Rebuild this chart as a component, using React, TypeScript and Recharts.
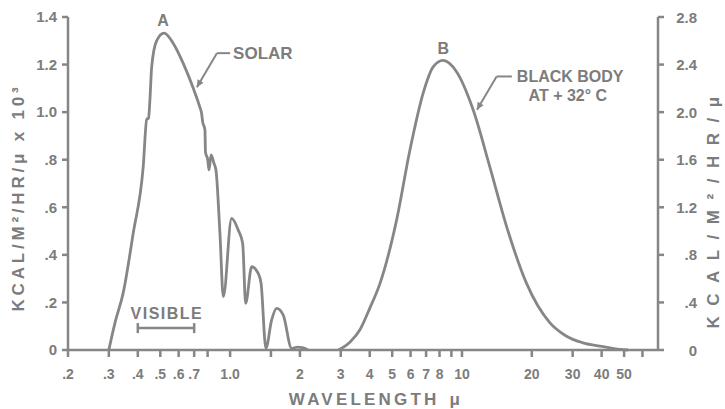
import React from 'react';
import {
  LineChart, Line, XAxis, YAxis, ReferenceLine, ReferenceDot
} from 'recharts';

// wavelength (micron) and intensity
const solarWave = [0.3, 0.32, 0.346, 0.382, 0.422, 0.437, 0.445, 0.451, 0.459, 0.482, 0.519, 0.569, 0.628, 0.694, 0.741, 0.753, 0.762, 0.779, 0.783, 0.801, 0.811, 0.828, 0.851, 0.869, 0.904, 0.935, 1.015, 1.084, 1.133, 1.167, 1.239, 1.322, 1.36, 1.427, 1.51, 1.587, 1.695, 1.842, 1.95, 2.05, 2.17];
const solarValue = [0, 0.12, 0.24, 0.49, 0.77, 0.97, 0.975, 1.05, 1.19, 1.3, 1.332, 1.289, 1.205, 1.1, 1.02, 0.996, 0.958, 0.925, 0.832, 0.8, 0.757, 0.82, 0.786, 0.757, 0.49, 0.224, 0.553, 0.504, 0.448, 0.196, 0.35, 0.322, 0.28, 0.007, 0.126, 0.175, 0.147, 0.007, 0.012, 0.01, 0];

const bodyWave = [2.93, 3.3, 3.63, 4.0, 4.43, 5.22, 5.96, 6.8, 7.51, 8.29, 9.47, 11.17, 13.18, 15.56, 18.98, 23.9, 28, 33.3, 40, 48, 52];
const bodyValue = [0, 0.07, 0.17, 0.35, 0.56, 1.09, 1.68, 2.16, 2.38, 2.435, 2.34, 2.02, 1.54, 1.04, 0.56, 0.23, 0.12, 0.06, 0.03, 0.005, 0];

const xTicks = [0.2, 0.3, 0.4, 0.5, 0.6, 0.7, 0.8, 1.0, 1.5, 2, 3, 4, 5, 6, 7, 8, 9, 10, 20, 30, 40, 50, 60];
const xTickText = ['.2', '.3', '.4', '.5', '.6', '.7', '', '1.0', '', '2', '3', '4', '5', '6', '7', '8', '', '10', '20', '30', '40', '50', ''];
const leftTicks = [0, 0.2, 0.4, 0.6, 0.8, 1.0, 1.2, 1.4];
const leftTickText = ['0', '.2', '.4', '.6', '.8', '1.0', '1.2', '1.4'];
const rightTicks = [0, 0.4, 0.8, 1.2, 1.6, 2.0, 2.4, 2.8];
const rightTickText = ['0', '.4', '.8', '1.2', '1.6', '2.0', '2.4', '2.8'];

const solarData = solarWave.map((x, i) => ({ x, v: solarValue[i] }));
const bodyData = bodyWave.map((x, i) => ({ x, v: bodyValue[i] }));

const INK = '#868686';
const TEXT = '#7c7c7c';
const FONT = '"Liberation Sans", Arial, sans-serif';

const Arrow = (props: any) => {
  const { x1, y1, x2, y2 } = props;
  const a = Math.atan2(y2 - y1, x2 - x1);
  const L = 8, w = 0.45;
  const p1 = `${x2 - L * Math.cos(a - w)},${y2 - L * Math.sin(a - w)}`;
  const p2 = `${x2 - L * Math.cos(a + w)},${y2 - L * Math.sin(a + w)}`;
  return (
    <g>
      <line x1={x1} y1={y1} x2={x2} y2={y2} stroke={INK} strokeWidth={2} />
      <polygon points={`${x2},${y2} ${p1} ${p2}`} fill={INK} />
    </g>
  );
};

const Plain = (props: any) => (
  <line x1={props.x1} y1={props.y1} x2={props.x2} y2={props.y2} stroke={INK} strokeWidth={2} />
);

const Bracket = (props: any) => {
  const { x1, y1, x2, y2 } = props;
  return (
    <g stroke={INK} strokeWidth={2.5}>
      <line x1={x1} y1={y1} x2={x2} y2={y2} />
      <line x1={x1} y1={y1 - 5} x2={x1} y2={y1 + 5} />
      <line x1={x2} y1={y2 - 5} x2={x2} y2={y2 + 5} />
    </g>
  );
};

const note = (lines: string[], size: number, anchor: 'start' | 'middle', dx = 0, second = 0, spacing = 0) => (p: any) => (
  <text x={p.cx + dx} y={p.cy} fill={TEXT} fontFamily={FONT} fontWeight="bold" fontSize={size}
    textAnchor={anchor} dominantBaseline="central" letterSpacing={spacing}>
    {lines.map((t, i) => (
      <tspan key={i} x={i === 0 ? p.cx + dx : p.cx + dx + second} dy={i === 0 ? 0 : 19}
        textAnchor={i === 0 ? anchor : 'middle'}>{t}</tspan>
    ))}
  </text>
);

const LeftTitle = (p: any) => {
  const vb = p.viewBox;
  const cx = vb.x + 18, cy = vb.y + vb.height / 2 + 14;
  return (
    <text x={cx} y={cy} transform={`rotate(-90, ${cx}, ${cy})`} textAnchor="middle" dominantBaseline="central"
      fill={TEXT} fontFamily={FONT} fontWeight="bold" fontSize={17} letterSpacing={3.8}>
      KCAL/M²/HR/μ x 10³
    </text>
  );
};

const RightTitle = (p: any) => {
  const vb = p.viewBox;
  const cx = vb.x + 55, cy = vb.y + vb.height / 2 + 24;
  return (
    <text x={cx} y={cy} transform={`rotate(-90, ${cx}, ${cy})`} textAnchor="middle" dominantBaseline="central"
      fill={TEXT} fontFamily={FONT} fontWeight="bold" fontSize={17} letterSpacing={10.5}>
      KCAL/M²/HR/μ
    </text>
  );
};

const BottomTitle = (p: any) => {
  const vb = p.viewBox;
  return (
    <text x={vb.x + vb.width / 2 + 13} y={vb.y + 49} textAnchor="middle" dominantBaseline="central"
      fill={TEXT} fontFamily={FONT} fontWeight="bold" fontSize={17} letterSpacing={3.2}>
      WAVELENGTH<tspan dx={10}>μ</tspan>
    </text>
  );
};

const RightTick = (p: any) => (
  <text x={p.x + 31} y={p.y} textAnchor="end" dominantBaseline="central" fill={TEXT}
    fontFamily={FONT} fontWeight="bold" fontSize={15}>
    {rightTickText[p.index]}
  </text>
);

export default function App() {
  return (
    <div style={{ position: 'absolute', left: 0, top: 0, background: '#fff' }}>
      <LineChart width={725} height={409} margin={{ top: 17, right: 0, bottom: 0, left: 0 }}>
        <XAxis
          dataKey="x" type="number" scale="log" domain={[0.2, 70]} allowDataOverflow
          ticks={xTicks} tickFormatter={(v: number, i: number) => xTickText[i]}
          interval={0} height={59} tickSize={7} tickMargin={12}
          stroke={INK} strokeWidth={2.5}
          tick={{ fill: TEXT, fontFamily: FONT, fontWeight: 'bold', fontSize: 14 }}
          label={{ content: BottomTitle }}
        />
        <YAxis
          yAxisId="left" domain={[0, 1.4]} ticks={leftTicks} interval={0} width={68}
          tickFormatter={(v: number, i: number) => leftTickText[i]}
          tickSize={6} tickMargin={5} stroke={INK} strokeWidth={2.5}
          tick={{ fill: TEXT, fontFamily: FONT, fontWeight: 'bold', fontSize: 15 }}
          label={{ content: LeftTitle }}
        />
        <YAxis
          yAxisId="right" orientation="right" domain={[0, 2.8]} ticks={rightTicks} interval={0} width={67}
          tickSize={6} tickMargin={2} stroke={INK} strokeWidth={2.5}
          tick={<RightTick />}
          label={{ content: RightTitle }}
        />
        <Line yAxisId="left" data={solarData} dataKey="v" type="monotone" stroke={INK} strokeWidth={2.8}
          dot={false} isAnimationActive={false} />
        <Line yAxisId="right" data={bodyData} dataKey="v" type="monotone" stroke={INK} strokeWidth={2.8}
          dot={false} isAnimationActive={false} />

        <ReferenceLine yAxisId="left" ifOverflow="visible" segment={[{ x: 1.0, y: 1.248 }, { x: 0.877, y: 1.248 }]} shape={Plain} />
        <ReferenceLine yAxisId="left" ifOverflow="visible" segment={[{ x: 0.877, y: 1.248 }, { x: 0.719, y: 1.105 }]} shape={Arrow} />
        <ReferenceLine yAxisId="right" ifOverflow="visible" segment={[{ x: 16.4, y: 2.3 }, { x: 14.1, y: 2.3 }]} shape={Plain} />
        <ReferenceLine yAxisId="right" ifOverflow="visible" segment={[{ x: 14.1, y: 2.3 }, { x: 11.6, y: 2.02 }]} shape={Arrow} />
        <ReferenceLine yAxisId="left" ifOverflow="visible" segment={[{ x: 0.4, y: 0.092 }, { x: 0.7, y: 0.092 }]} shape={Bracket} />

        <ReferenceDot yAxisId="left" ifOverflow="visible" x={0.514} y={1.387} r={0} shape={note(['A'], 16, 'middle')} />
        <ReferenceDot yAxisId="left" ifOverflow="visible" x={1.0} y={1.248} r={0} shape={note(['SOLAR'], 17, 'start', 3)} />
        <ReferenceDot yAxisId="right" ifOverflow="visible" x={8.3} y={2.54} r={0} shape={note(['B'], 16, 'middle')} />
        <ReferenceDot yAxisId="right" ifOverflow="visible" x={16.4} y={2.3} r={0} shape={note(['BLACK BODY', 'AT + 32° C'], 16, 'start', 5, 51)} />
        <ReferenceDot yAxisId="left" ifOverflow="visible" x={0.534} y={0.156} r={0} shape={note(['VISIBLE'], 16, 'middle', 0, 0, 1.5)} />
      </LineChart>
    </div>
  );
}
